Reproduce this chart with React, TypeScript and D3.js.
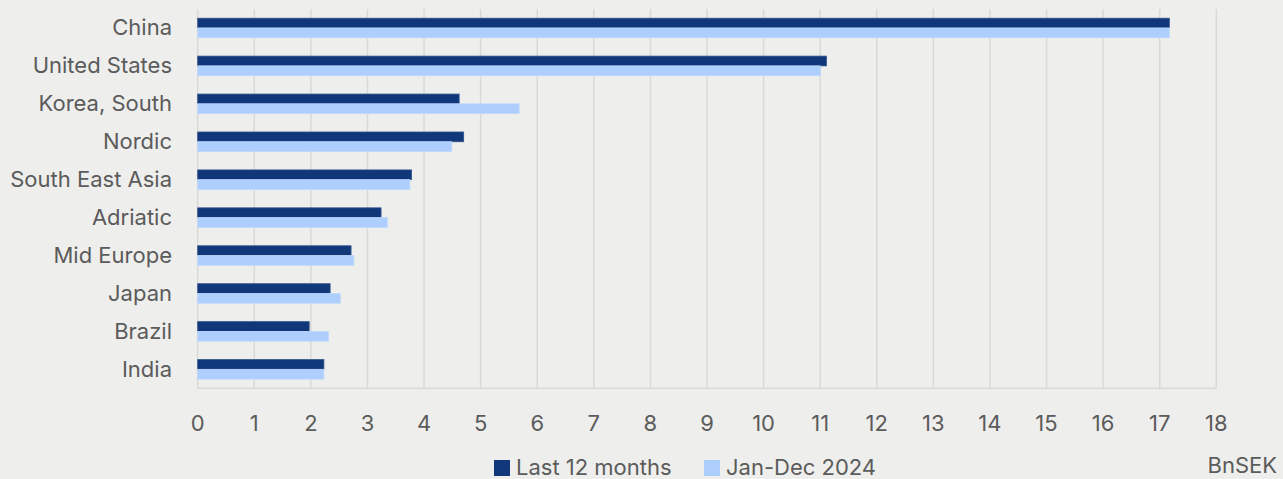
import React from "react";
import * as d3 from "d3";

const categories = ["China", "United States", "Korea, South", "Nordic", "South East Asia", "Adriatic", "Mid Europe", "Japan", "Brazil", "India"];
const last12Months = [17.17, 11.11, 4.62, 4.7, 3.78, 3.24, 2.71, 2.34, 1.97, 2.23];
const janDec2024 = [17.17, 11.0, 5.68, 4.49, 3.75, 3.35, 2.76, 2.52, 2.31, 2.23];
const seriesNames = ["Last 12 months", "Jan-Dec 2024"];
const xTicks = d3.range(0, 19);
const unitLabel = "BnSEK";

const W = 1283;
const H = 479;
const M = { left: 197.7, right: 1216.3, top: 9, bottom: 388.3 };
const colors = ["#10377a", "#aecffd"];
const strokes = ["#33548c", "#bdd8fc"];
const textColor = "#5b5b5b";
const font = "Inter, 'DejaVu Sans', sans-serif";
const fs = 22;

export default function App() {
  const x = d3.scaleLinear().domain([0, 18]).range([M.left, M.right]);
  const y = d3.scaleBand<string>().domain(categories).range([M.top, M.bottom]).paddingInner(0.485).paddingOuter(0.2425);
  const inner = d3.scaleBand<string>().domain(seriesNames).range([0, y.bandwidth()]);
  const data = [last12Months, janDec2024];

  return (
    <div style={{ position: "fixed", left: 0, top: 0 }}>
      <svg width={W} height={H} style={{ display: "block", background: "#eeeeec" }}>
        <rect x={0} y={0} width={W} height={H} fill="#eeeeec" />
        {xTicks.map((t) => (
          <line key={"g" + t} x1={x(t)} x2={x(t)} y1={M.top} y2={M.bottom} stroke="#d9d9d9" strokeWidth={1.5} />
        ))}
        <line x1={M.left} x2={M.right} y1={M.bottom} y2={M.bottom} stroke="#d9d9d9" strokeWidth={1.5} />
        {categories.map((c, i) => (
          <g key={c}>
            {data.map((s, si) => (
              <rect
                key={si}
                x={x(0)}
                y={(y(c) as number) + (inner(seriesNames[si]) as number)}
                width={x(s[i]) - x(0)}
                height={inner.bandwidth()}
                fill={colors[si]}
                stroke={strokes[si]}
                strokeWidth={0.8}
              />
            ))}
            <text
              x={172}
              y={(y(c) as number) + y.bandwidth() / 2 + 7.5}
              textAnchor="end"
              fontFamily={font}
              fontSize={fs}
              fill={textColor}
            >
              {c}
            </text>
          </g>
        ))}
        {xTicks.map((t) => (
          <text key={"t" + t} x={x(t)} y={431} textAnchor="middle" fontFamily={font} fontSize={fs} fill={textColor}>
            {t}
          </text>
        ))}
        {seriesNames.map((n, i) => {
          const lx = [494, 704][i];
          return (
            <g key={n}>
              <rect x={lx} y={460} width={16} height={16} fill={colors[i]} />
              <text x={lx + 22} y={474.5} fontFamily={font} fontSize={fs} fill={textColor}>
                {n}
              </text>
            </g>
          );
        })}
        <text x={1277} y={473} textAnchor="end" fontFamily={font} fontSize={fs} fill={textColor}>
          {unitLabel}
        </text>
      </svg>
    </div>
  );
}
